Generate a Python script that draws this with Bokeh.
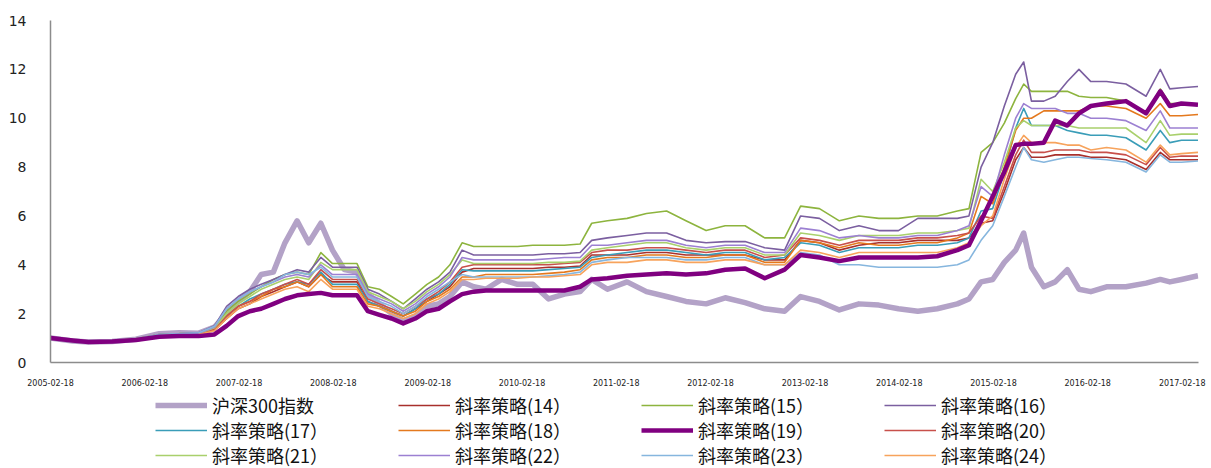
import pandas as pd
from bokeh.plotting import figure
from bokeh.layouts import column
from bokeh.models import Range1d, FixedTicker, DatetimeTickFormatter, Legend, LegendItem
from bokeh.embed import file_html
from bokeh.resources import INLINE

dates = [
    "2005-02-18", "2005-05-15", "2005-07-15", "2005-10-15", "2006-01-15", "2006-04-15", "2006-07-01", "2006-09-15", "2006-11-15",
    "2007-01-01", "2007-02-15", "2007-04-01", "2007-05-15", "2007-07-01", "2007-08-15", "2007-10-01", "2007-11-15",
    "2008-01-01", "2008-02-15", "2008-04-01", "2008-05-20", "2008-07-01", "2008-08-15", "2008-10-01", "2008-11-15",
    "2009-01-01", "2009-02-15", "2009-04-01", "2009-05-15", "2009-07-01", "2009-08-15", "2009-10-01", "2009-12-01",
    "2010-02-01", "2010-04-01", "2010-06-01", "2010-08-01", "2010-10-01", "2010-11-15",
    "2011-01-15", "2011-04-01", "2011-06-15", "2011-09-01", "2011-11-15",
    "2012-02-01", "2012-04-15", "2012-07-01", "2012-09-15", "2012-12-01",
    "2013-02-01", "2013-04-15", "2013-07-01", "2013-09-15", "2013-12-01",
    "2014-02-15", "2014-05-01", "2014-07-15", "2014-10-01", "2014-11-15", "2015-01-01",
    "2015-02-15", "2015-04-01", "2015-05-15", "2015-06-15", "2015-07-15", "2015-09-01", "2015-10-15", "2015-12-01",
    "2016-01-15", "2016-03-01", "2016-05-01", "2016-07-15", "2016-10-01", "2016-11-25", "2017-01-01", "2017-02-15", "2017-04-20",
]

hs300 = [
    1.00, 0.88, 0.84, 0.86, 0.95, 1.18, 1.22, 1.20, 1.45,
    2.00, 2.50, 2.90, 3.60, 3.70, 4.90, 5.80, 4.90,
    5.70, 4.60, 3.80, 3.70, 2.80, 2.40, 2.00, 1.70,
    1.90, 2.30, 2.40, 2.70, 3.30, 3.10, 3.00, 3.40,
    3.20, 3.20, 2.60, 2.80, 2.90, 3.40,
    3.00, 3.30, 2.90, 2.70, 2.50,
    2.40, 2.65, 2.45, 2.20, 2.10,
    2.70, 2.50, 2.15, 2.40, 2.35,
    2.20, 2.10, 2.20, 2.40, 2.60, 3.30,
    3.40, 4.10, 4.60, 5.30, 3.90, 3.10, 3.30, 3.80,
    3.00, 2.90, 3.10, 3.10, 3.25, 3.40, 3.30, 3.40, 3.55,
]

s14 = [
    1.00, 0.89, 0.85, 0.87, 0.94, 1.10, 1.13, 1.15, 1.32,
    1.80, 2.20, 2.40, 2.70, 2.90, 3.10, 3.30, 3.10,
    3.60, 3.30, 3.30, 3.30, 2.50, 2.30, 2.10, 1.90,
    2.20, 2.50, 2.80, 3.10, 3.70, 3.85, 3.85, 3.85,
    3.85, 3.85, 3.90, 3.90, 3.95, 4.40,
    4.40, 4.40, 4.50, 4.50, 4.40,
    4.40, 4.40, 4.40, 4.20, 4.20,
    5.00, 4.90, 4.60, 4.80, 4.90,
    4.90, 5.00, 5.00, 5.00, 5.10, 5.70,
    5.80, 7.00, 8.30, 8.80, 8.40, 8.40, 8.50, 8.50,
    8.50, 8.40, 8.40, 8.30, 7.90, 8.60, 8.30, 8.30, 8.30,
]

s15 = [
    1.00, 0.90, 0.87, 0.89, 0.97, 1.14, 1.18, 1.20, 1.45,
    2.10, 2.50, 2.80, 3.10, 3.40, 3.60, 3.70, 3.60,
    4.50, 4.05, 4.05, 4.05, 3.10, 3.00, 2.70, 2.40,
    2.80, 3.20, 3.50, 4.00, 4.90, 4.75, 4.75, 4.75,
    4.75, 4.80, 4.80, 4.80, 4.85, 5.70,
    5.80, 5.90, 6.10, 6.20, 5.80,
    5.40, 5.60, 5.60, 5.10, 5.10,
    6.40, 6.30, 5.80, 6.00, 5.90,
    5.90, 6.00, 6.00, 6.20, 6.30, 8.60,
    9.00, 9.80, 10.80, 11.40, 11.10, 11.10, 11.10, 11.10,
    10.90, 10.85, 10.85, 10.70, 10.20, 11.20, 10.60, 10.60, 10.55,
]

s16 = [
    1.00, 0.90, 0.86, 0.88, 0.96, 1.14, 1.18, 1.22, 1.50,
    2.30, 2.70, 3.00, 3.20, 3.40, 3.60, 3.80, 3.70,
    4.30, 3.90, 3.90, 3.90, 3.00, 2.80, 2.50, 2.20,
    2.60, 3.00, 3.30, 3.70, 4.60, 4.40, 4.40, 4.40,
    4.40, 4.40, 4.45, 4.45, 4.50, 5.00,
    5.10, 5.20, 5.30, 5.30, 5.00,
    4.90, 4.95, 4.95, 4.70, 4.60,
    6.00, 5.90, 5.40, 5.60, 5.40,
    5.40, 5.90, 5.90, 5.90, 6.00, 8.00,
    9.00, 10.50, 11.80, 12.30, 10.70, 10.70, 10.90, 11.50,
    12.00, 11.50, 11.50, 11.40, 10.90, 12.00, 11.20, 11.25, 11.30,
]

s17 = [
    1.00, 0.89, 0.85, 0.87, 0.95, 1.11, 1.15, 1.17, 1.38,
    1.90, 2.30, 2.60, 2.80, 3.00, 3.20, 3.30, 3.20,
    3.70, 3.20, 3.20, 3.20, 2.50, 2.30, 2.10, 1.90,
    2.20, 2.60, 2.80, 3.20, 3.80, 3.75, 3.75, 3.75,
    3.75, 3.75, 3.80, 3.85, 3.90, 4.30,
    4.40, 4.50, 4.60, 4.60, 4.50,
    4.40, 4.50, 4.50, 4.20, 4.30,
    4.90, 4.80, 4.50, 4.70, 4.70,
    4.70, 4.80, 4.80, 4.90, 5.10, 6.20,
    6.30, 7.80, 9.60, 10.40, 9.70, 9.70, 9.70, 9.50,
    9.40, 9.30, 9.30, 9.20, 8.70, 9.50, 9.00, 9.10, 9.10,
]

s18 = [
    1.00, 0.89, 0.85, 0.87, 0.95, 1.10, 1.14, 1.16, 1.35,
    1.90, 2.30, 2.50, 2.70, 3.00, 3.10, 3.30, 3.10,
    3.60, 3.10, 3.10, 3.10, 2.40, 2.30, 2.10, 1.90,
    2.10, 2.50, 2.70, 3.00, 3.50, 3.50, 3.60, 3.60,
    3.60, 3.60, 3.65, 3.70, 3.80, 4.20,
    4.30, 4.30, 4.40, 4.40, 4.30,
    4.30, 4.40, 4.40, 4.10, 4.10,
    5.00, 4.90, 4.70, 4.90, 4.80,
    4.80, 4.90, 4.90, 5.10, 5.30, 6.80,
    6.50, 8.00, 9.50, 10.00, 10.00, 10.30, 10.30, 10.30,
    10.30, 10.50, 10.50, 10.40, 10.00, 10.60, 10.10, 10.10, 10.15,
]

s19 = [
    1.00, 0.90, 0.84, 0.86, 0.92, 1.05, 1.08, 1.08, 1.15,
    1.50, 1.90, 2.10, 2.20, 2.40, 2.60, 2.75, 2.80,
    2.85, 2.75, 2.75, 2.75, 2.10, 1.95, 1.80, 1.60,
    1.80, 2.10, 2.20, 2.50, 2.80, 2.90, 2.95, 2.95,
    2.95, 2.95, 2.95, 2.95, 3.10, 3.40,
    3.45, 3.55, 3.60, 3.65, 3.60,
    3.65, 3.80, 3.85, 3.45, 3.80,
    4.40, 4.30, 4.15, 4.30, 4.30,
    4.30, 4.30, 4.35, 4.60, 4.80, 5.80,
    6.80, 7.80, 8.90, 8.95, 8.95, 9.00, 9.90, 9.70,
    10.20, 10.50, 10.60, 10.70, 10.20, 11.10, 10.50, 10.60, 10.55,
]

s20 = [
    1.00, 0.89, 0.85, 0.87, 0.95, 1.11, 1.15, 1.17, 1.36,
    1.90, 2.30, 2.50, 2.80, 3.00, 3.20, 3.40, 3.20,
    3.80, 3.40, 3.40, 3.40, 2.60, 2.40, 2.20, 2.00,
    2.30, 2.60, 2.90, 3.30, 3.90, 4.00, 4.00, 4.00,
    4.00, 4.00, 4.00, 4.05, 4.10, 4.50,
    4.60, 4.60, 4.70, 4.70, 4.60,
    4.50, 4.60, 4.60, 4.30, 4.40,
    5.10, 5.00, 4.80, 5.00, 5.00,
    5.00, 5.10, 5.10, 5.20, 5.30, 6.00,
    5.90, 7.20, 8.50, 9.10, 8.60, 8.60, 8.70, 8.70,
    8.70, 8.60, 8.60, 8.50, 8.10, 8.80, 8.40, 8.45, 8.45,
]

s21 = [
    1.00, 0.90, 0.87, 0.89, 0.97, 1.13, 1.17, 1.19, 1.42,
    2.00, 2.40, 2.70, 3.00, 3.20, 3.40, 3.50, 3.40,
    4.10, 3.80, 3.80, 3.80, 2.90, 2.70, 2.50, 2.20,
    2.50, 2.90, 3.20, 3.60, 4.20, 4.05, 4.05, 4.05,
    4.05, 4.05, 4.10, 4.10, 4.15, 4.60,
    4.70, 4.80, 4.90, 4.90, 4.70,
    4.60, 4.70, 4.70, 4.40, 4.40,
    5.30, 5.20, 5.00, 5.20, 5.20,
    5.20, 5.30, 5.30, 5.40, 5.50, 7.50,
    7.00, 8.20, 9.60, 9.90, 9.70, 9.70, 9.70, 9.70,
    9.60, 9.60, 9.60, 9.60, 9.00, 9.90, 9.30, 9.35, 9.35,
]

s22 = [
    1.00, 0.90, 0.86, 0.88, 0.96, 1.13, 1.17, 1.20, 1.45,
    2.20, 2.60, 2.90, 3.10, 3.30, 3.50, 3.60, 3.50,
    4.00, 3.60, 3.60, 3.60, 2.80, 2.60, 2.40, 2.10,
    2.40, 2.80, 3.10, 3.50, 4.30, 4.20, 4.20, 4.20,
    4.20, 4.20, 4.25, 4.30, 4.30, 4.80,
    4.80, 4.90, 5.00, 5.00, 4.80,
    4.70, 4.80, 4.80, 4.50, 4.50,
    5.50, 5.40, 5.10, 5.20, 5.10,
    5.10, 5.20, 5.20, 5.40, 5.60, 7.20,
    6.80, 8.50, 10.00, 10.60, 10.40, 10.40, 10.40, 10.20,
    10.20, 10.00, 10.00, 9.90, 9.50, 10.30, 9.60, 9.60, 9.60,
]

s23 = [
    1.00, 0.90, 0.86, 0.88, 0.96, 1.14, 1.18, 1.22, 1.48,
    2.20, 2.60, 2.90, 3.10, 3.30, 3.60, 3.70, 3.60,
    3.90, 3.50, 3.50, 3.50, 2.70, 2.50, 2.30, 2.00,
    2.30, 2.70, 3.00, 3.30, 3.60, 3.50, 3.50, 3.50,
    3.50, 3.50, 3.55, 3.60, 3.70, 4.10,
    4.20, 4.30, 4.30, 4.30, 4.20,
    4.20, 4.30, 4.30, 4.00, 4.00,
    4.50, 4.40, 4.00, 4.00, 3.90,
    3.90, 3.90, 3.90, 4.00, 4.20, 5.00,
    5.60, 6.80, 8.00, 8.80, 8.30, 8.20, 8.30, 8.40,
    8.40, 8.35, 8.30, 8.20, 7.80, 8.50, 8.20, 8.20, 8.25,
]

s24 = [
    1.00, 0.89, 0.85, 0.87, 0.94, 1.09, 1.12, 1.14, 1.30,
    1.80, 2.20, 2.40, 2.60, 2.80, 3.00, 3.10, 2.90,
    3.40, 3.00, 3.00, 3.00, 2.30, 2.20, 2.00, 1.80,
    2.00, 2.40, 2.60, 2.90, 3.40, 3.40, 3.45, 3.45,
    3.45, 3.50, 3.50, 3.55, 3.60, 4.00,
    4.10, 4.10, 4.20, 4.20, 4.10,
    4.10, 4.20, 4.20, 4.00, 4.00,
    4.60, 4.50, 4.30, 4.50, 4.50,
    4.50, 4.50, 4.50, 4.70, 4.90, 5.60,
    6.00, 7.50, 8.80, 9.30, 9.00, 9.00, 9.00, 8.90,
    8.90, 8.70, 8.80, 8.70, 8.20, 8.90, 8.50, 8.55, 8.60,
]

tick_labels = ["2005-02-18", "2006-02-18", "2007-02-18", "2008-02-18", "2009-02-18",
               "2010-02-18", "2011-02-18", "2012-02-18", "2013-02-18", "2014-02-18",
               "2015-02-18", "2016-02-18", "2017-02-18"]

names = ["沪深300指数", "斜率策略(14）", "斜率策略(15）", "斜率策略(16）",
         "斜率策略(17）", "斜率策略(18）", "斜率策略(19）", "斜率策略(20）",
         "斜率策略(21）", "斜率策略(22）", "斜率策略(23）", "斜率策略(24）"]
series = [hs300, s14, s15, s16, s17, s18, s19, s20, s21, s22, s23, s24]
colors = ["#B3A2C7", "#A8302C", "#8DB43E", "#7B5FA0", "#3A9DB8", "#E4791E",
          "#800080", "#C8504B", "#A9D06C", "#9C80D2", "#86B6DE", "#F7A35C"]
widths = [5.5, 1.6, 1.6, 1.6, 1.6, 1.6, 4.5, 1.6, 1.6, 1.6, 1.6, 1.6]

for s in series:
    assert len(s) == len(dates), len(s)

x = pd.to_datetime(dates)

# ---- main chart ----
p = figure(width=1211, height=388, x_axis_type="datetime",
           output_backend="svg", toolbar_location=None,
           x_range=Range1d(pd.Timestamp("2005-02-18"), pd.Timestamp("2017-04-22")),
           y_range=Range1d(0, 14),
           min_border_left=50, min_border_right=13, min_border_top=20, min_border_bottom=21)
p.outline_line_color = None
p.xgrid.visible = False
p.ygrid.visible = False

draw_order = [0, 1, 2, 3, 4, 5, 7, 8, 9, 10, 11, 6]
for i in draw_order:
    p.line(x, series[i], line_color=colors[i], line_width=widths[i], line_join="round")

p.xaxis.ticker = FixedTicker(ticks=[pd.Timestamp(t).value / 1e6 for t in tick_labels])
fmt = "%Y-%m-%d"
p.xaxis.formatter = DatetimeTickFormatter(milliseconds=fmt, seconds=fmt, minsec=fmt, minutes=fmt,
                                          hourmin=fmt, hours=fmt, days=fmt, months=fmt, years=fmt)
p.yaxis.ticker = FixedTicker(ticks=[0, 2, 4, 6, 8, 10, 12, 14])

for ax in (p.xaxis[0], p.yaxis[0]):
    ax.axis_line_color = "#8C8C8C"
    ax.axis_line_width = 1.5
    ax.major_tick_line_color = None
    ax.minor_tick_line_color = None
    ax.major_label_text_font = "DejaVu Sans"
    ax.major_label_text_color = "#222222"

p.xaxis.major_label_text_font_size = "8px"
p.xaxis.major_label_standoff = 10
p.yaxis.major_label_text_font_size = "14px"
p.yaxis.major_label_standoff = 18

# ---- legend strip below the chart (frames are aligned with the chart) ----
lg = figure(width=1211, height=80, output_backend="svg", toolbar_location=None,
            x_range=Range1d(0, 1), y_range=Range1d(0, 1),
            x_axis_location=None, y_axis_location=None,
            min_border_left=0, min_border_right=0, min_border_top=0, min_border_bottom=0)
lg.outline_line_color = None
lg.xgrid.visible = False
lg.ygrid.visible = False

items = []
for i in range(len(series)):
    r = lg.line([-5, -4], [-5, -5], line_color=colors[i], line_width=widths[i])
    items.append(LegendItem(label=names[i], renderers=[r]))

row_y = [50, 25, 0]
for k in range(3):
    legend = Legend(items=items[4 * k:4 * k + 4], orientation="horizontal", location=(105, row_y[k]),
                    glyph_width=52, glyph_height=20, label_height=20, label_width=182,
                    label_standoff=5, spacing=4, padding=0, margin=0,
                    label_text_font="Noto Sans CJK TC", label_text_font_size="18px",
                    label_text_color="#111111",
                    background_fill_alpha=0, border_line_color=None)
    lg.add_layout(legend, "center")

layout = column(p, lg, spacing=0)
open("out.html", "w").write(file_html(layout, INLINE))
